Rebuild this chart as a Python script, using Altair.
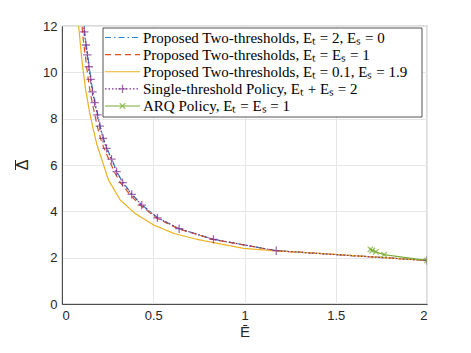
import altair as alt
import pandas as pd

# ---------------- data ----------------
series_names = [
    "Proposed Two-thresholds, Eₜ = 2, Eₛ = 0",
    "Proposed Two-thresholds, Eₜ = Eₛ = 1",
    "Proposed Two-thresholds, Eₜ = 0.1, Eₛ = 1.9",
    "Single-threshold Policy, Eₜ + Eₛ = 2",
    "ARQ Policy, Eₜ = Eₛ = 1",
]
colors = ["#2A86CC", "#D95319", "#EDB120", "#7E2F8E", "#77AC30"]
dashes = [[6, 3, 1.5, 3], [6, 4], [1, 0], [1.5, 2], [1, 0]]

delta_common = [12.4, 11.75, 11.18, 10.75, 10.24, 9.70, 9.16, 8.69, 8.16, 7.68, 7.15,
                6.72, 6.25, 5.71, 5.24, 4.73, 4.27, 3.72, 3.25, 2.79, 2.30, 1.88]
e_blue = [0.119, 0.124, 0.133, 0.141, 0.149, 0.159, 0.169, 0.181, 0.196, 0.209, 0.227,
          0.246, 0.273, 0.301, 0.334, 0.384, 0.439, 0.524, 0.643, 0.830, 1.174, 2.0]
e_red = [0.108, 0.112, 0.120, 0.127, 0.135, 0.144, 0.154, 0.166, 0.180, 0.193, 0.211,
         0.230, 0.257, 0.286, 0.320, 0.371, 0.428, 0.516, 0.637, 0.827, 1.172, 2.0]
e_single = [0.117, 0.122, 0.131, 0.139, 0.147, 0.157, 0.167, 0.179, 0.194, 0.207, 0.225,
            0.244, 0.271, 0.299, 0.332, 0.382, 0.437, 0.523, 0.642, 0.830, 1.174, 2.0]

e_orange = [0.088, 0.090, 0.110, 0.130, 0.150, 0.170, 0.192, 0.255, 0.319, 0.400, 0.502,
            0.612, 0.740, 0.831, 0.995, 1.160, 1.360, 2.0]
d_orange = [12.4, 12.1, 10.45, 9.23, 8.33, 7.59, 6.86, 5.35, 4.49, 3.91, 3.41,
            3.05, 2.79, 2.65, 2.40, 2.30, 2.21, 1.88]

e_arq = [1.69, 1.70, 1.72, 1.765, 2.0]
d_arq = [2.36, 2.31, 2.25, 2.13, 1.88]

x_ticks = [0, 0.5, 1, 1.5, 2]
y_ticks = [0, 2, 4, 6, 8, 10, 12]
x_title = "Ē"
y_title = "Δ"

# ---------------- tables ----------------
rows = []
for name, es, ds in [
    (series_names[0], e_blue, delta_common),
    (series_names[1], e_red, delta_common),
    (series_names[2], e_orange, d_orange),
    (series_names[3], e_single, delta_common),
    (series_names[4], e_arq, d_arq),
]:
    for i, (e, d) in enumerate(zip(es, ds)):
        rows.append({"series": name, "E": e, "D": d, "i": i})
lines_df = pd.DataFrame(rows)

mark_rows = []
for e, d in zip(e_single[1:], delta_common[1:]):
    mark_rows.append({"series": series_names[3], "E": e, "D": d})
for e, d in zip(e_arq, d_arq):
    mark_rows.append({"series": series_names[4], "E": e, "D": d})
marks_df = pd.DataFrame(mark_rows)

legend_df = pd.DataFrame({"series": series_names, "row": list(range(len(series_names)))})

PLUS = "M-1,0H1M0,-1V1"
XMARK = "M-1,-1L1,1M-1,1L1,-1"

color_scale = alt.Scale(domain=series_names, range=colors)
dash_scale = alt.Scale(domain=series_names, range=dashes)
shape_scale = alt.Scale(domain=series_names[3:], range=[PLUS, XMARK])
size_scale = alt.Scale(domain=series_names[3:], range=[70, 30])

x_enc = alt.X("E:Q", scale=alt.Scale(domain=[0, 2], nice=False),
              axis=alt.Axis(values=x_ticks, title=x_title, format="~g"))
y_enc = alt.Y("D:Q", scale=alt.Scale(domain=[0, 12], nice=False),
              axis=alt.Axis(values=y_ticks, title=None))

lines = alt.Chart(lines_df).mark_line(strokeWidth=1.2, clip=True).encode(
    x=x_enc, y=y_enc,
    color=alt.Color("series:N", scale=color_scale, legend=None),
    strokeDash=alt.StrokeDash("series:N", scale=dash_scale, legend=None),
    order="i:Q",
)
points = alt.Chart(marks_df).mark_point(filled=False, strokeWidth=1.3, clip=True).encode(
    x=x_enc, y=y_enc,
    color=alt.Color("series:N", scale=color_scale, legend=None),
    shape=alt.Shape("series:N", scale=shape_scale, legend=None),
    size=alt.Size("series:N", scale=size_scale, legend=None),
)
main = alt.layer(lines, points)

# ---------------- y title (Delta with bar) ----------------
one = pd.DataFrame({"a": [0]})
ytitle = alt.Chart(one).mark_text(
    text=y_title, angle=270, font="Liberation Sans", fontSize=16,
    color="#262626", align="center", baseline="middle",
).encode(x=alt.value(-39), y=alt.value(139))
ybar = alt.Chart(one).mark_rule(color="#262626", strokeWidth=1).encode(
    x=alt.value(-46.5), y=alt.value(134), y2=alt.value(144)
)

# ---------------- manual legend (pixel layout) ----------------
ly = alt.Y("row:Q", scale=alt.Scale(domain=[0, 4], range=[11.5, 80]), axis=None)
box = alt.Chart(one).mark_rect(
    fill="white", stroke="#262626", strokeWidth=0.8
).encode(x=alt.value(41), x2=alt.value(360), y=alt.value(2), y2=alt.value(91))
leg_lines = alt.Chart(legend_df).mark_rule(strokeWidth=1.2).encode(
    x=alt.value(43), x2=alt.value(78), y=ly,
    color=alt.Color("series:N", scale=color_scale, legend=None),
    strokeDash=alt.StrokeDash("series:N", scale=dash_scale, legend=None),
)
leg_pts = alt.Chart(legend_df[legend_df["row"] >= 3]).mark_point(filled=False, strokeWidth=1.3).encode(
    x=alt.value(60.5), y=ly,
    color=alt.Color("series:N", scale=color_scale, legend=None),
    shape=alt.Shape("series:N", scale=shape_scale, legend=None),
    size=alt.Size("series:N", scale=size_scale, legend=None),
)
leg_text = alt.Chart(legend_df).mark_text(
    align="left", baseline="middle", font="Liberation Serif", fontSize=15, color="#000000"
).encode(x=alt.value(81), y=ly, text="series:N")

legend = alt.layer(box, leg_lines, leg_pts, leg_text)

chart = alt.layer(main, ytitle, ybar, legend).resolve_scale(y="independent").properties(
    width=365, height=278,
    autosize=alt.AutoSizeParams(type="none"),
    padding={"left": 54, "top": 18, "right": 30, "bottom": 41},
).configure_view(stroke="#262626", strokeWidth=0.8).configure_axis(
    domainColor="#262626", tickColor="#262626", labelColor="#262626",
    titleColor="#262626", gridColor="#E6E6E6", gridWidth=1,
    labelFont="Liberation Sans", labelFontSize=13, tickSize=0,
    titleFont="Liberation Sans", titleFontSize=15, titleFontWeight="normal",
    domainWidth=0.8, labelPadding=5,
).configure_axisX(titlePadding=2)

chart.save("out.html", embed_options={"renderer": "svg", "actions": False})
